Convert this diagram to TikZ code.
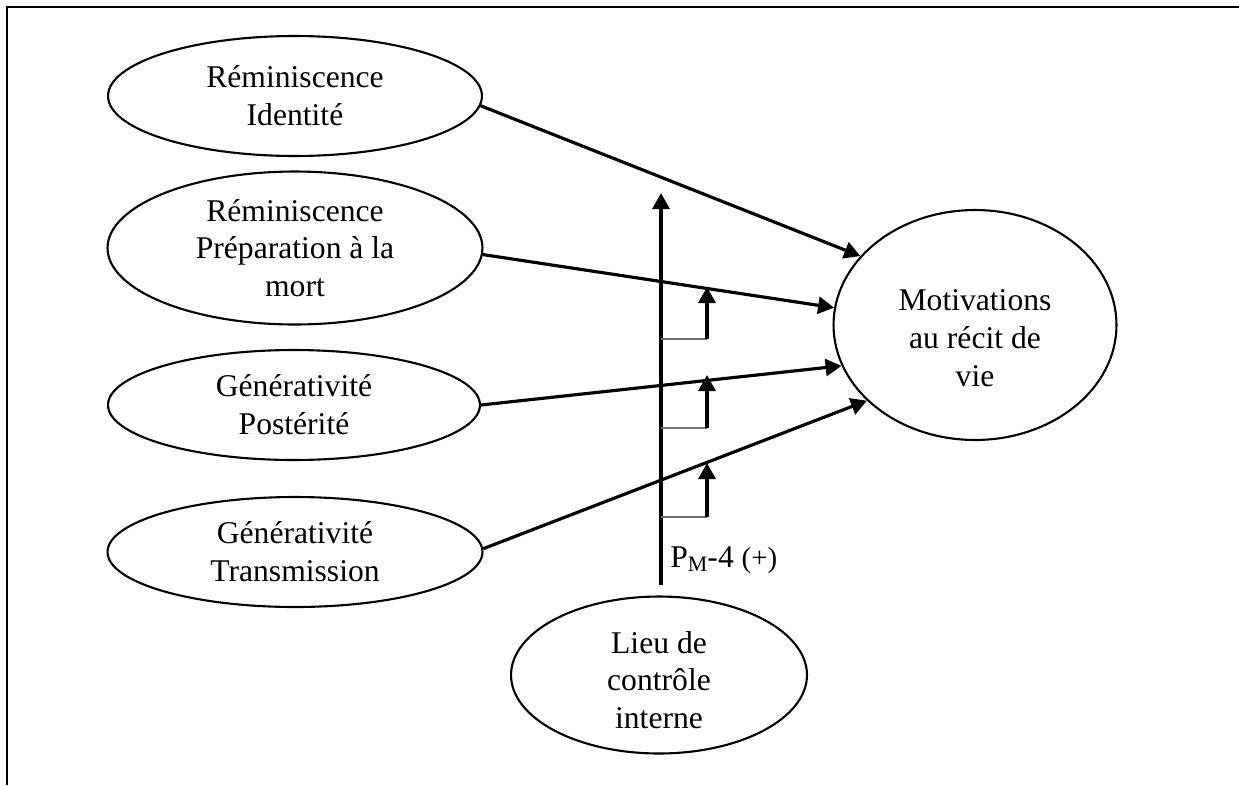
\documentclass[tikz,border=0pt]{standalone}
\usepackage{fontspec}
\setmainfont{Liberation Serif}
\usetikzlibrary{arrows.meta,shapes.geometric}
\begin{document}
\begin{tikzpicture}[x=0.02cm,y=-0.02cm,
  ell/.style={draw, ellipse, line width=1.2pt, inner sep=0pt, align=center,
    font=\fontsize{18}{21.5}\selectfont},
  txt/.style={align=center, inner sep=0pt, font=\fontsize{18}{21.5}\selectfont},
  conn/.style={line width=1.8pt, -{Triangle[length=0.32cm,width=0.34cm]}},
  thinline/.style={line width=0.6pt, draw=black!55}]
\useasboundingbox (0,0) rectangle (1239,785);
\draw[line width=1.3pt] (7,785) -- (7,7) -- (1239,7);

\node[ell, minimum width=7.48cm, minimum height=2.4cm] (E1) at (295,96) {Réminiscence\\Identité};
\node[ell, minimum width=7.5cm, minimum height=3.06cm] (E2) at (295,248) {Réminiscence\\Préparation à la\\mort};
\node[ell, minimum width=7.44cm, minimum height=2.2cm] (E3) at (294,405) {Générativité\\Postérité};
\node[ell, minimum width=7.5cm, minimum height=2.2cm] (E4) at (295,552) {Générativité\\Transmission};
\node[ell, minimum width=5.66cm, minimum height=4.6cm] (Mot) at (975,325) {};
\node[txt] (MotT) at (975,338) {Motivations\\au récit de\\vie};
\node[ell, minimum width=5.92cm, minimum height=3.14cm] (Lieu) at (659,675) {};
\node[txt] (LieuT) at (659,680) {Lieu de\\contrôle\\interne};

\draw[conn] (E1.-3.4) -- (Mot.149);
\draw[conn] (E2.-2.4) -- (Mot.173.6);
\draw[conn] (E3.0) -- (Mot.197.2);
\draw[conn] (E4.1.2) -- (Mot.215.3);

\coordinate (vb) at (661,585);
\coordinate (vt) at (661,193);
\draw[conn] (vb) -- (vt);

\coordinate (m1) at (661,339); \coordinate (c1) at (707,339); \coordinate (t1) at (707,287);
\coordinate (m2) at (661,428); \coordinate (c2) at (707,428); \coordinate (t2) at (707,375);
\coordinate (m3) at (661,517); \coordinate (c3) at (707,517); \coordinate (t3) at (707,463);
\draw[thinline] (m1) -- (c1);
\draw[thinline] (m2) -- (c2);
\draw[thinline] (m3) -- (c3);
\draw[conn] (c1) -- (t1);
\draw[conn] (c2) -- (t2);
\draw[conn] (c3) -- (t3);

\node[anchor=base west, inner sep=0pt, font=\fontsize{18}{21.5}\selectfont] (lab) at (670,567)
  {P\raisebox{-0.3ex}{\fontsize{12.5}{14}\selectfont M}-4 {\fontsize{16.5}{19}\selectfont(+)}};
\end{tikzpicture}
\end{document}
